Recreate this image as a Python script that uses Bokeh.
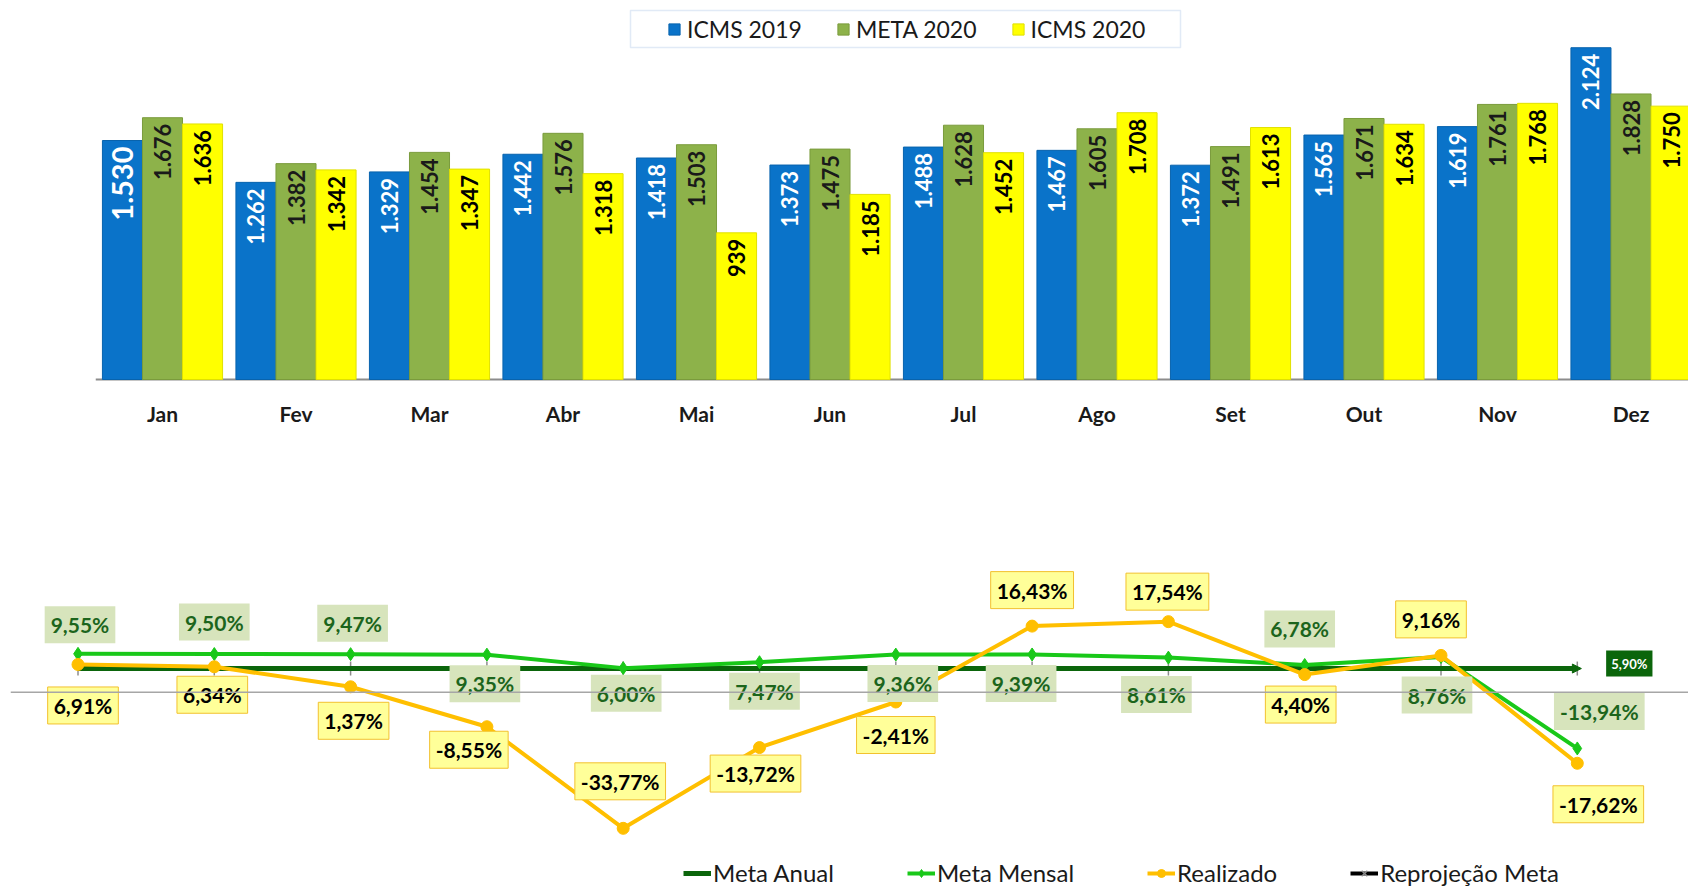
import math
from bokeh.plotting import figure
from bokeh.models import (ColumnDataSource, Range1d, Legend, LegendItem, FixedTicker,
                          BoxAnnotation, Span, Arrow, NormalHead)
from bokeh.layouts import column
from bokeh.transform import dodge
from bokeh.core.properties import value
from bokeh.embed import file_html
from bokeh.resources import INLINE

# ---------------- data ----------------
months = ["Jan", "Fev", "Mar", "Abr", "Mai", "Jun", "Jul", "Ago", "Set", "Out", "Nov", "Dez"]
series_names = ["ICMS 2019", "META 2020", "ICMS 2020"]
icms_2019 = [1530, 1262, 1329, 1442, 1418, 1373, 1488, 1467, 1372, 1565, 1619, 2124]
meta_2020 = [1676, 1382, 1454, 1576, 1503, 1475, 1628, 1605, 1491, 1671, 1761, 1828]
icms_2020 = [1636, 1342, 1347, 1318, 939, 1185, 1452, 1708, 1613, 1634, 1768, 1750]

line_names = ["Meta Anual", "Meta Mensal", "Realizado", "Reprojeção Meta"]
meta_anual = [5.90, 5.90, 5.90, 5.90, 5.90, 5.90, 5.90, 5.90, 5.90, 5.90, 5.90, 5.90]
meta_mensal = [9.55, 9.50, 9.47, 9.35, 6.00, 7.47, 9.36, 9.39, 8.61, 6.78, 8.76, -13.94]
realizado = [6.91, 6.34, 1.37, -8.55, -33.77, -13.72, -2.41, 16.43, 17.54, 4.40, 9.16, -17.62]

# ---------------- styles / layout ----------------
FONT = "Lato"
W = 1688
H1 = 470
H2 = 420
BORDER_L = 10
BLUE, BLUE_EDGE = "#0a73c9", "#0863ad"
GREEN, GREEN_EDGE = "#8db24a", "#7a9b3c"
YELLOW, YELLOW_EDGE = "#ffff00", "#e0e000"
DK_GREEN = "#0b650b"
LT_GREEN = "#19c819"
ORANGE = "#ffbf00"

# label pixel offsets (style only)
mm_dx = [2, 0, 2, -2, 3, 5, 7, -11, -12, -5, -4, 22]
mm_dy = [-29, -32, -31, 29, 25, 29, 29, 29, 37, -36, 38, -37]
rz_dx = [5, -2, 3, -18, -3, -4, 0, 0, -1, -4, -10, 21]
rz_dy = [41, 28, 34, 23, -47, 26, 33, -36, -30, 30, -36, 41]
fs19 = ["29px"] + ["22px"] * 11

# pixel geometry of the bar chart (category pitch and y scale)
PITCH1 = 133.5          # px per month
JAN_C1 = 162.0          # px of the first group centre
BASE1 = 379.0           # px of the bar baseline
UPP1 = 6.402            # value units per pixel


def x1(px):
    return (px - JAN_C1) / PITCH1


def y1(py):
    return (BASE1 - py) * UPP1


def br_int(v):
    return f"{v:,}".replace(",", ".")


def br_pct(v):
    return f"{v:.2f}".replace(".", ",") + "%"


idx = list(range(len(months)))

# ---------------- top: bar chart ----------------
src = ColumnDataSource(dict(
    i=idx, month=months,
    icms_2019=icms_2019, meta_2020=meta_2020, icms_2020=icms_2020,
    l19=[br_int(v) for v in icms_2019],
    lmeta=[br_int(v) for v in meta_2020],
    l20=[br_int(v) for v in icms_2020],
    fs19=fs19,
))

p1 = figure(x_range=Range1d(x1(BORDER_L), x1(W)), y_range=Range1d(y1(381), y1(0)),
            width=W, height=H1, output_backend="svg", toolbar_location=None,
            y_axis_location=None,
            min_border_left=BORDER_L, min_border_right=0, min_border_top=0,
            min_border_bottom=H1 - 381)
p1.outline_line_color = None
p1.grid.visible = False
ax = p1.xaxis[0]
ax.ticker = FixedTicker(ticks=idx)
ax.major_label_overrides = {i: m for i, m in zip(idx, months)}
ax.axis_line_color = None
ax.major_tick_line_color = None
ax.minor_tick_line_color = None
ax.major_tick_in = 0
ax.major_tick_out = 0
ax.major_label_standoff = 19
ax.major_label_text_font = FONT
ax.major_label_text_font_size = "21px"
ax.major_label_text_font_style = "bold"
ax.major_label_text_color = "#1a1a1a"

# category baseline (from the first category boundary onwards)
p1.segment(x0=[idx[0] - 0.5], x1=[idx[-1] + 0.5], y0=[0], y1=[0],
           line_color="#8c8c8c", line_width=2)

cols = ["icms_2019", "meta_2020", "icms_2020"]
lbls = ["l19", "lmeta", "l20"]
fills = [BLUE, GREEN, YELLOW]
edges = [BLUE_EDGE, GREEN_EDGE, YELLOW_EDGE]
txtc = ["white", "#1a1a1a", "black"]
offs = [-0.3, 0.0, 0.3]
bar_renderers = []
for c, lb, f, e, tc, o in zip(cols, lbls, fills, edges, txtc, offs):
    r = p1.vbar(x=dodge("i", o), top=c, bottom=0, width=0.3, source=src,
                fill_color=f, line_color=e, line_width=1)
    bar_renderers.append(r)
    fs = dict(field="fs19") if c == "icms_2019" else "22px"
    p1.text(x=dodge("i", o), y=c, text=lb, source=src,
            angle=math.pi / 2, text_align="right", text_baseline="middle",
            y_offset=6, text_font=value(FONT), text_font_style="bold",
            text_font_size=fs, text_color=tc)

box = BoxAnnotation(left=x1(630), right=x1(1180), top=y1(10), bottom=y1(47),
                    fill_color="white", fill_alpha=1.0,
                    line_color="#9dbbe0", line_width=1.5)
p1.add_layout(box)

leg1 = Legend(items=[LegendItem(label=n, renderers=[r]) for n, r in zip(series_names, bar_renderers)],
              orientation="horizontal", location=(667 - BORDER_L, 338),
              border_line_alpha=0, background_fill_alpha=0,
              glyph_width=14, glyph_height=14, label_standoff=6, spacing=34,
              padding=0, margin=0,
              label_text_font=FONT, label_text_font_size="23px", label_text_color="#1a1a1a")
p1.add_layout(leg1)

# ---------------- bottom: line chart ----------------
PITCH2 = 136.3
JAN_C2 = 77.5
ZERO2 = 221.8      # px from the top of this panel
PPU2 = 4.028       # px per percent point

src2 = ColumnDataSource(dict(
    i=idx, month=months, anual=meta_anual, mensal=meta_mensal, real=realizado,
    lm=[br_pct(v) for v in meta_mensal], lr=[br_pct(v) for v in realizado],
    mdx=mm_dx, mdy=mm_dy, rdx=rz_dx, rdy=rz_dy,
))

p2 = figure(x_range=Range1d((BORDER_L - JAN_C2) / PITCH2, (W - JAN_C2) / PITCH2),
            y_range=Range1d(-(H2 - ZERO2) / PPU2, ZERO2 / PPU2),
            width=W, height=H2, output_backend="svg", toolbar_location=None,
            x_axis_location=None, y_axis_location=None,
            min_border_left=BORDER_L, min_border_right=0, min_border_top=0,
            min_border_bottom=0)
p2.outline_line_color = None
p2.grid.visible = False

p2.add_layout(Span(location=0, dimension="width", line_color="#a6a6a6", line_width=1.5))

p2.scatter(x="i", y="anual", source=src2, marker="dash", angle=math.pi / 2, size=14,
           line_color="#8c8c8c", line_width=1.5)
r_anual = p2.line(x="i", y="anual", source=src2, line_color=DK_GREEN, line_width=5)
p2.add_layout(Arrow(end=NormalHead(size=9, fill_color=DK_GREEN, line_color=DK_GREEN),
                    x_start=idx[-1] - 0.05, y_start=meta_anual[-1],
                    x_end=idx[-1] + 0.03, y_end=meta_anual[-1],
                    line_color=DK_GREEN, line_width=2))

r_mm_l = p2.line(x="i", y="mensal", source=src2, line_color=LT_GREEN, line_width=4)
r_mm_s = p2.scatter(x="i", y="mensal", source=src2, marker="diamond", size=13,
                    fill_color=LT_GREEN, line_color=LT_GREEN)
r_rz_l = p2.line(x="i", y="real", source=src2, line_color=ORANGE, line_width=4)
r_rz_s = p2.scatter(x="i", y="real", source=src2, marker="circle", size=12,
                    fill_color=ORANGE, line_color=ORANGE)

nan_src = ColumnDataSource(dict(x=[float("nan")], y=[float("nan")]))
r_rp_l = p2.line(x="x", y="y", source=nan_src, line_color="black", line_width=4)
r_rp_s = p2.scatter(x="x", y="y", source=nan_src, marker="x", size=11,
                    line_color="#8c8c8c", line_width=1.5)

p2.text(x="i", y="mensal", text="lm", source=src2, x_offset="mdx", y_offset="mdy",
        text_align="center", text_baseline="middle", text_font=value(FONT),
        text_font_style="bold", text_font_size="21px", text_color="#1c651c",
        background_fill_color="#d7e4bc", padding=6)
p2.text(x="i", y="real", text="lr", source=src2, x_offset="rdx", y_offset="rdy",
        text_align="center", text_baseline="middle", text_font=value(FONT),
        text_font_style="bold", text_font_size="21px", text_color="black",
        background_fill_color="#ffff99", border_line_color="#f2c12e",
        border_line_width=1, padding=6)

src_a = ColumnDataSource(dict(x=[idx[-1]], y=[meta_anual[-1]], t=[br_pct(meta_anual[-1])]))
p2.text(x="x", y="y", text="t", source=src_a, x_offset=52, y_offset=-5,
        text_align="center", text_baseline="middle", text_font=value(FONT),
        text_font_style="bold", text_font_size="13px", text_color="white",
        background_fill_color=DK_GREEN, padding=5)

leg2 = Legend(items=[
    LegendItem(label=line_names[0], renderers=[r_anual]),
    LegendItem(label=line_names[1], renderers=[r_mm_l, r_mm_s]),
    LegendItem(label=line_names[2], renderers=[r_rz_l, r_rz_s]),
    LegendItem(label=line_names[3], renderers=[r_rp_l, r_rp_s]),
], orientation="horizontal", location=(683 - BORDER_L, 3),
    border_line_alpha=0, background_fill_alpha=0,
    glyph_width=28, glyph_height=20, label_standoff=2, spacing=73,
    padding=0, margin=0,
    label_text_font=FONT, label_text_font_size="24px", label_text_color="#1a1a1a")
p2.add_layout(leg2)

layout = column(p1, p2, spacing=0)
open("out.html", "w").write(file_html(layout, INLINE))
